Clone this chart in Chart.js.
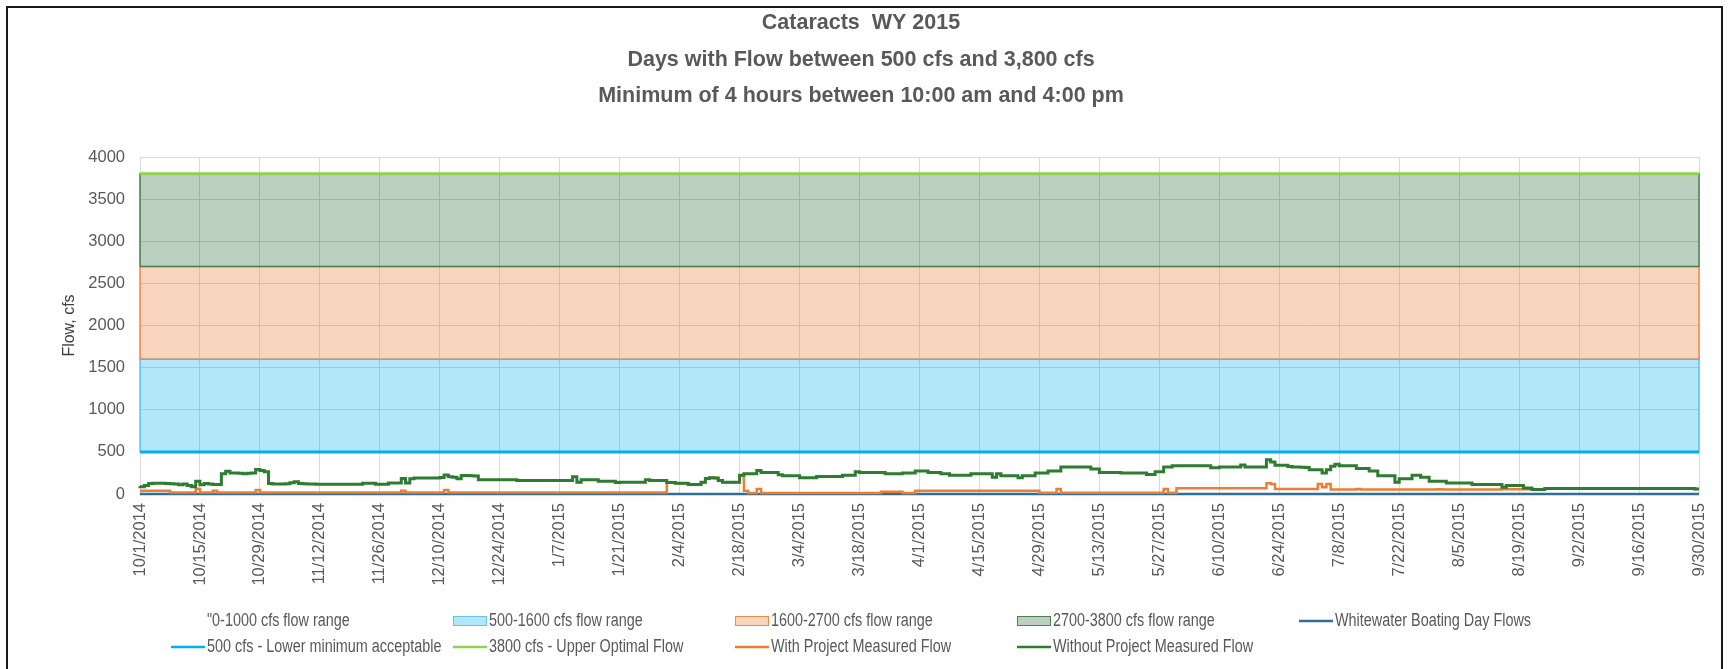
<!DOCTYPE html>
<html>
<head>
<meta charset="utf-8">
<title>Cataracts WY 2015</title>
<script src="https://cdn.jsdelivr.net/npm/chart.js@4.4.1/dist/chart.umd.min.js"></script>
<style>
  html, body { margin: 0; padding: 0; background: #ffffff; }
  #wrap { position: relative; width: 1730px; height: 669px; }
</style>
</head>
<body>
<div id="wrap"><canvas id="chart" width="1730" height="669"></canvas></div>
<script>
// Water year 2015: one value per day, day 0 = 10/1/2014, day 364 = 9/30/2015.
const tickLabels = [
  '10/1/2014', '10/15/2014', '10/29/2014', '11/12/2014', '11/26/2014', '12/10/2014', '12/24/2014',
  '1/7/2015', '1/21/2015', '2/4/2015', '2/18/2015', '3/4/2015', '3/18/2015', '4/1/2015',
  '4/15/2015', '4/29/2015', '5/13/2015', '5/27/2015', '6/10/2015', '6/24/2015', '7/8/2015',
  '7/22/2015', '8/5/2015', '8/19/2015', '9/2/2015', '9/16/2015', '9/30/2015'
];
const TICK_STEP_DAYS = 14;
const LAST_DAY = 364;

// Daily flow without the project, cfs (rows of 14 days)
const withoutProject = [
  95, 85, 100, 125, 128, 128, 128, 125, 122, 118, 110, 118, 100, 85,
  150, 110, 125, 120, 112, 112, 240, 270, 250, 248, 245, 240, 245, 250,
  290, 280, 265, 125, 120, 118, 120, 122, 135, 145, 125, 122, 120, 120,
  116, 116, 116, 116, 116, 116, 116, 116, 116, 116, 116, 128, 128, 128,
  116, 116, 116, 132, 132, 132, 185, 130, 180, 190, 190, 190, 190, 190,
  190, 195, 225, 205, 200, 180, 220, 220, 218, 215, 170, 168, 168, 168,
  168, 168, 168, 168, 168, 160, 160, 160, 160, 160, 160, 160, 160, 160,
  160, 160, 160, 160, 205, 140, 168, 168, 168, 168, 152, 152, 152, 152,
  136, 140, 140, 140, 140, 140, 140, 168, 160, 160, 160, 160, 136, 136,
  128, 128, 128, 112, 112, 112, 140, 185, 192, 190, 160, 140, 140, 140,
  140, 224, 240, 240, 240, 280, 256, 256, 256, 256, 228, 216, 216, 216,
  216, 192, 192, 192, 192, 208, 208, 208, 208, 208, 208, 224, 224, 224,
  265, 256, 256, 256, 256, 256, 256, 240, 240, 240, 240, 248, 248, 248,
  272, 272, 272, 256, 256, 256, 240, 240, 224, 224, 224, 224, 224, 240,
  240, 240, 240, 240, 200, 240, 216, 216, 216, 216, 192, 216, 216, 216,
  248, 248, 248, 272, 272, 272, 320, 320, 320, 320, 320, 320, 320, 296,
  296, 256, 256, 256, 256, 256, 248, 248, 248, 248, 248, 248, 232, 232,
  264, 264, 320, 320, 336, 336, 336, 336, 336, 336, 336, 336, 336, 312,
  312, 320, 320, 320, 320, 320, 344, 320, 320, 320, 320, 320, 408, 380,
  340, 340, 340, 325, 320, 320, 318, 315, 288, 288, 288, 248, 288, 328,
  352, 336, 336, 336, 336, 304, 304, 304, 272, 272, 216, 216, 216, 216,
  140, 180, 180, 180, 224, 224, 200, 200, 152, 152, 152, 152, 132, 132,
  132, 132, 132, 132, 112, 112, 112, 112, 112, 112, 112, 80, 100, 100,
  100, 100, 72, 72, 52, 52, 52, 64, 64, 64, 64, 64, 64, 64,
  64, 64, 64, 64, 64, 64, 66, 64, 64, 64, 64, 64, 64, 64,
  64, 64, 64, 64, 64, 64, 64, 64, 64, 66, 64, 64, 64, 64,
  60
];

// Daily flow with the project, cfs (rows of 14 days)
const withProject = [
  40, 40, 40, 40, 40, 40, 40, 40, 18, 18, 18, 18, 18, 18,
  60, 18, 18, 18, 40, 18, 18, 18, 18, 18, 18, 18, 18, 18,
  48, 18, 18, 18, 18, 18, 18, 18, 18, 18, 18, 18, 18, 18,
  18, 18, 18, 18, 18, 18, 18, 18, 18, 18, 18, 18, 18, 18,
  18, 18, 18, 18, 18, 18, 40, 18, 18, 18, 18, 18, 18, 18,
  18, 18, 48, 18, 18, 18, 18, 18, 18, 18, 18, 18, 18, 18,
  18, 18, 18, 18, 18, 18, 18, 18, 18, 18, 18, 18, 18, 18,
  18, 18, 18, 18, 18, 18, 18, 18, 18, 18, 18, 18, 18, 18,
  18, 18, 18, 18, 18, 18, 18, 18, 18, 18, 18, 18, 136, 136,
  128, 128, 128, 112, 112, 112, 140, 185, 192, 190, 160, 140, 140, 140,
  140, 224, 40, 12, 12, 60, 12, 12, 12, 12, 12, 12, 12, 12,
  12, 12, 12, 12, 12, 12, 12, 12, 12, 12, 12, 12, 12, 12,
  12, 12, 12, 12, 12, 12, 28, 28, 28, 28, 28, 12, 12, 12,
  40, 40, 40, 40, 40, 40, 40, 40, 40, 40, 40, 40, 40, 40,
  40, 40, 40, 40, 40, 40, 40, 40, 40, 40, 40, 40, 40, 40,
  40, 15, 15, 15, 15, 60, 15, 15, 15, 15, 15, 15, 15, 15,
  15, 15, 15, 15, 15, 15, 15, 15, 15, 15, 15, 15, 15, 15,
  15, 15, 60, 15, 15, 68, 68, 68, 68, 68, 68, 68, 68, 68,
  68, 68, 68, 68, 68, 68, 68, 68, 68, 68, 68, 68, 128, 120,
  60, 60, 60, 60, 60, 60, 60, 60, 60, 60, 120, 80, 120, 52,
  52, 52, 52, 52, 52, 60, 52, 52, 52, 52, 52, 52, 52, 52,
  52, 52, 52, 52, 52, 52, 52, 52, 52, 52, 56, 52, 52, 52,
  52, 52, 52, 52, 52, 52, 52, 52, 52, 52, 52, 56, 56, 56,
  56, 56, 56, 56, 52, 52, 52, 62, 62, 62, 62, 62, 62, 62,
  62, 62, 62, 62, 62, 62, 62, 62, 62, 62, 62, 62, 62, 62,
  62, 62, 62, 62, 62, 62, 62, 62, 62, 62, 62, 62, 62, 62,
  58
];

// Days meeting the boating criteria (none in WY 2015), cfs
const whitewaterFlows = [
  0, 0, 0, 0, 0, 0, 0, 0, 0, 0, 0, 0, 0, 0,
  0, 0, 0, 0, 0, 0, 0, 0, 0, 0, 0, 0, 0, 0,
  0, 0, 0, 0, 0, 0, 0, 0, 0, 0, 0, 0, 0, 0,
  0, 0, 0, 0, 0, 0, 0, 0, 0, 0, 0, 0, 0, 0,
  0, 0, 0, 0, 0, 0, 0, 0, 0, 0, 0, 0, 0, 0,
  0, 0, 0, 0, 0, 0, 0, 0, 0, 0, 0, 0, 0, 0,
  0, 0, 0, 0, 0, 0, 0, 0, 0, 0, 0, 0, 0, 0,
  0, 0, 0, 0, 0, 0, 0, 0, 0, 0, 0, 0, 0, 0,
  0, 0, 0, 0, 0, 0, 0, 0, 0, 0, 0, 0, 0, 0,
  0, 0, 0, 0, 0, 0, 0, 0, 0, 0, 0, 0, 0, 0,
  0, 0, 0, 0, 0, 0, 0, 0, 0, 0, 0, 0, 0, 0,
  0, 0, 0, 0, 0, 0, 0, 0, 0, 0, 0, 0, 0, 0,
  0, 0, 0, 0, 0, 0, 0, 0, 0, 0, 0, 0, 0, 0,
  0, 0, 0, 0, 0, 0, 0, 0, 0, 0, 0, 0, 0, 0,
  0, 0, 0, 0, 0, 0, 0, 0, 0, 0, 0, 0, 0, 0,
  0, 0, 0, 0, 0, 0, 0, 0, 0, 0, 0, 0, 0, 0,
  0, 0, 0, 0, 0, 0, 0, 0, 0, 0, 0, 0, 0, 0,
  0, 0, 0, 0, 0, 0, 0, 0, 0, 0, 0, 0, 0, 0,
  0, 0, 0, 0, 0, 0, 0, 0, 0, 0, 0, 0, 0, 0,
  0, 0, 0, 0, 0, 0, 0, 0, 0, 0, 0, 0, 0, 0,
  0, 0, 0, 0, 0, 0, 0, 0, 0, 0, 0, 0, 0, 0,
  0, 0, 0, 0, 0, 0, 0, 0, 0, 0, 0, 0, 0, 0,
  0, 0, 0, 0, 0, 0, 0, 0, 0, 0, 0, 0, 0, 0,
  0, 0, 0, 0, 0, 0, 0, 0, 0, 0, 0, 0, 0, 0,
  0, 0, 0, 0, 0, 0, 0, 0, 0, 0, 0, 0, 0, 0,
  0, 0, 0, 0, 0, 0, 0, 0, 0, 0, 0, 0, 0, 0,
  0
];

// Flow range bands (lower, upper) in cfs and the two reference flows
const rangeBaseLevel = [0, 500];
const bandLower = [500, 1600, 2700];
const bandUpper = [1600, 2700, 3800];
const lowerMinimumFlow = [500];
const upperOptimalFlow = [3800];

const seriesNames = [
  '"0-1000 cfs flow range',
  '500-1600 cfs flow range',
  '1600-2700 cfs flow range',
  '2700-3800 cfs flow range',
  'Whitewater Boating Day Flows',
  '500 cfs - Lower minimum acceptable',
  '3800 cfs - Upper Optimal Flow',
  'With Project Measured Flow',
  'Without Project Measured Flow'
];

const COLORS = {
  bandFill: ['rgba(0,176,240,0.30)', 'rgba(237,125,49,0.32)', 'rgba(30,100,40,0.30)'],
  bandEdge: ['#62c6ee', '#ed8a4c', '#4f7f52'],
  whitewater: '#2f6f96',
  lower: '#00b0f0',
  upper: '#92d050',
  withProj: '#ed7d31',
  withoutProj: '#2e7b32'
};

const FONT = '"Liberation Sans", Arial, sans-serif';

const daily = arr => arr.map((v, i) => ({ x: i, y: v }));
const level = v => [{ x: 0, y: v }, { x: LAST_DAY, y: v }];
const outline = (lo, hi) => [
  { x: 0, y: lo }, { x: 0, y: hi }, { x: LAST_DAY, y: hi }, { x: LAST_DAY, y: lo }, { x: 0, y: lo }
];

const datasets = [];
// measured flows drawn on top
datasets.push({ label: seriesNames[8], data: daily(withoutProject), borderColor: COLORS.withoutProj,
  borderWidth: 3, stepped: 'after', fill: false, order: 0, clip: 4 });
datasets.push({ label: seriesNames[7], data: daily(withProject), borderColor: COLORS.withProj,
  borderWidth: 2.5, stepped: 'after', fill: false, order: 1, clip: 4 });
datasets.push({ label: seriesNames[4], data: daily(whitewaterFlows), borderColor: COLORS.whitewater,
  borderWidth: 2.5, fill: false, order: 2, clip: 4 });
datasets.push({ label: seriesNames[5], data: level(lowerMinimumFlow[0]), borderColor: COLORS.lower,
  borderWidth: 3, fill: false, order: 3, clip: 4 });
datasets.push({ label: seriesNames[6], data: level(upperOptimalFlow[0]), borderColor: COLORS.upper,
  borderWidth: 3, fill: false, order: 4, clip: 4 });
// band outlines, then band fills underneath
for (let b = bandLower.length - 1; b >= 0; b--) {
  datasets.push({ label: seriesNames[b + 1] + ' edge', data: outline(bandLower[b], bandUpper[b]),
    borderColor: COLORS.bandEdge[b], borderWidth: 1.5, fill: false, order: 5 + (2 - b), clip: 4 });
}
for (let b = 0; b < bandLower.length; b++) {
  datasets.push({ label: seriesNames[b + 1], data: level(bandUpper[b]), borderWidth: 0,
    borderColor: 'rgba(0,0,0,0)', backgroundColor: COLORS.bandFill[b],
    fill: { value: bandLower[b] }, order: 10 + b });
}
// base of the stacked ranges (no fill)
datasets.push({ label: seriesNames[0], data: level(rangeBaseLevel[1]), borderWidth: 0,
  borderColor: 'rgba(0,0,0,0)', fill: false, order: 20 });

// Outer frame of the chart object
const framePlugin = {
  id: 'frame',
  afterDraw(chart) {
    const c = chart.ctx;
    c.save();
    c.strokeStyle = '#1a1a1a';
    c.lineWidth = 2;
    c.strokeRect(7, 7, chart.width - 15, chart.height + 10);
    c.restore();
  }
};

// Two-row legend under the axis (condensed lettering)
const legendLayout = [
  [{ name: 0, kind: 'none' }, { name: 1, kind: 'box', b: 0 }, { name: 2, kind: 'box', b: 1 },
   { name: 3, kind: 'box', b: 2 }, { name: 4, kind: 'line', color: COLORS.whitewater }],
  [{ name: 5, kind: 'line', color: COLORS.lower }, { name: 6, kind: 'line', color: COLORS.upper },
   { name: 7, kind: 'line', color: COLORS.withProj }, { name: 8, kind: 'line', color: COLORS.withoutProj }]
];
const LEGEND_CONDENSE = 0.8;
const legendPlugin = {
  id: 'bottomLegend',
  afterDraw(chart) {
    const c = chart.ctx;
    const colStart = 171, colWidth = 282, swatchW = 34;
    const rowY = [chart.height - 48, chart.height - 22];
    c.save();
    c.textBaseline = 'middle';
    legendLayout.forEach((row, r) => {
      row.forEach((item, col) => {
        const x = colStart + col * colWidth;
        const y = rowY[r];
        if (item.kind === 'box') {
          c.fillStyle = COLORS.bandFill[item.b];
          c.fillRect(x, y - 5, swatchW, 10);
          c.strokeStyle = COLORS.bandEdge[item.b];
          c.lineWidth = 1;
          c.strokeRect(x + 0.5, y - 4.5, swatchW - 1, 9);
        } else if (item.kind === 'line') {
          c.strokeStyle = item.color;
          c.lineWidth = 2.5;
          c.beginPath();
          c.moveTo(x, y);
          c.lineTo(x + swatchW, y);
          c.stroke();
        }
        c.save();
        c.translate(x + swatchW + 2, y);
        c.scale(LEGEND_CONDENSE, 1);
        c.font = '18px ' + FONT;
        c.fillStyle = '#595959';
        c.fillText(seriesNames[item.name], 0, 0);
        c.restore();
      });
    });
    c.restore();
  }
};

const TITLE_SIZE = 21.5;
new Chart(document.getElementById('chart'), {
  type: 'line',
  data: { datasets },
  options: {
    responsive: false,
    animation: false,
    devicePixelRatio: 1,
    layout: { padding: { left: 23, right: 31, top: 0, bottom: 75 } },
    elements: { point: { radius: 0, hoverRadius: 0 }, line: { tension: 0 } },
    plugins: {
      legend: { display: false },
      tooltip: { enabled: false },
      title: {
        display: true,
        text: ['Cataracts  WY 2015', 'Days with Flow between 500 cfs and 3,800 cfs',
               'Minimum of 4 hours between 10:00 am and 4:00 pm'],
        color: '#595959',
        font: { family: FONT, size: TITLE_SIZE, weight: 'bold', lineHeight: 36.5 / TITLE_SIZE },
        padding: { top: 5, bottom: 42.5 }
      }
    },
    scales: {
      x: {
        type: 'linear',
        min: 0,
        max: LAST_DAY,
        afterFit: s => { s.height = 100; },
        grid: { color: '#d9d9d9', lineWidth: 1, drawTicks: false },
        border: { display: false },
        ticks: {
          stepSize: TICK_STEP_DAYS,
          autoSkip: false,
          maxRotation: 90,
          minRotation: 90,
          padding: 9,
          color: '#595959',
          font: { family: FONT, size: 16.5 },
          callback: v => {
            const i = v / TICK_STEP_DAYS;
            return Number.isInteger(i) ? tickLabels[i] : '';
          }
        }
      },
      y: {
        min: 0,
        max: 4000,
        afterFit: s => { s.width = 117; },
        grid: { color: '#d9d9d9', lineWidth: 1, drawTicks: false },
        border: { display: false },
        ticks: { stepSize: 500, padding: 15, color: '#595959', font: { family: FONT, size: 16.5 },
          callback: v => String(v) },
        title: {
          display: true,
          text: 'Flow, cfs',
          color: '#404040',
          font: { family: FONT, size: 16 },
          padding: { top: 37, bottom: 0 }
        }
      }
    }
  },
  plugins: [framePlugin, legendPlugin]
});
</script>
</body>
</html>
